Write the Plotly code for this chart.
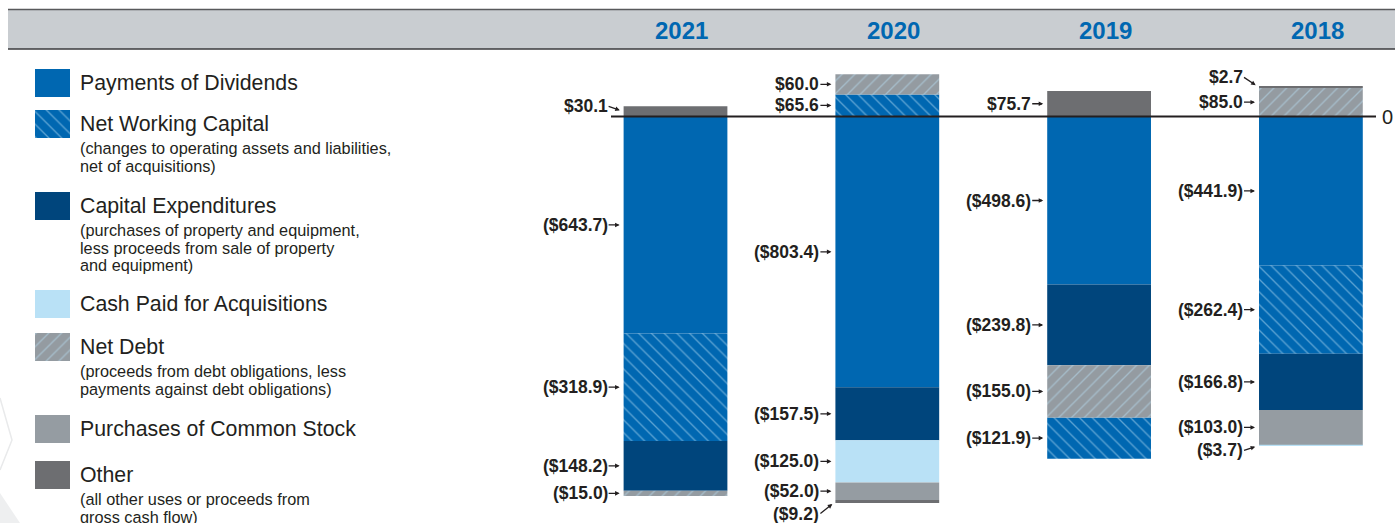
import plotly.graph_objects as go

# ---------------- data ----------------
years = ["2021", "2020", "2019", "2018"]
categories = ["Payments of Dividends", "Net Working Capital", "Capital Expenditures",
              "Cash Paid for Acquisitions", "Net Debt", "Purchases of Common Stock", "Other"]
dividends = [-643.7, -803.4, -498.6, -441.9]
net_working_capital = [-318.9, 65.6, -121.9, -262.4]
capital_expenditures = [-148.2, -157.5, -239.8, -166.8]
acquisitions = [0.0, -125.0, 0.0, -3.7]
net_debt = [-15.0, 60.0, -155.0, 85.0]
stock_purchases = [0.0, -52.0, 0.0, -103.0]
other = [30.1, -9.2, 75.7, 2.7]
series = [dividends, net_working_capital, capital_expenditures, acquisitions,
          net_debt, stock_purchases, other]

# stacking order (outward from zero) per year, as category indices
stack_order = {
    "2021": [0, 1, 2, 4, 6],
    "2020": [0, 2, 3, 5, 6, 1, 4],
    "2019": [0, 2, 4, 1, 6],
    "2018": [0, 1, 2, 5, 3, 4, 6],
}

legend_notes = [
    [],
    ["(changes to operating assets and liabilities,", "net of acquisitions)"],
    ["(purchases of property and equipment,", "less proceeds from sale of property", "and equipment)"],
    [],
    ["(proceeds from debt obligations, less", "payments against debt obligations)"],
    [],
    ["(all other uses or proceeds from", "gross cash flow)"],
]

# ---------------- style ----------------
W, H = 1395, 523
ZERO_PX, SCALE = 116.5, 0.337
FONT = "Liberation Sans, Arial, sans-serif"
TXT = "#231f20"
BLUE = "#0067b1"
LINE_LB = "#b8def4"
styles = [
    dict(color=BLUE),
    dict(color=BLUE, pattern=dict(shape="\\", fgcolor=LINE_LB, bgcolor=BLUE, size=9, solidity=0.15, fillmode="overlay")),
    dict(color="#00457c"),
    dict(color="#b9e1f6"),
    dict(color="#949ba1", pattern=dict(shape="/", fgcolor=LINE_LB, bgcolor="#949ba1", size=9, solidity=0.15, fillmode="overlay")),
    dict(color="#959ca2"),
    dict(color="#6d6e71"),
]
BAR_W = 0.49
# label offsets (px) for thin segments: (year, cat) -> dy of label relative to arrow head
label_dy = {("2021", 6): -5, ("2018", 6): -10, ("2020", 6): 12, ("2018", 3): 5}

# compute bases from stacking order
bases = {c: {} for c in range(len(categories))}
for i, yr in enumerate(years):
    pos, neg = 0.0, 0.0
    for c in stack_order[yr]:
        v = series[c][i]
        if v == 0:
            continue
        if v > 0:
            bases[c][i] = pos
            pos += v
        else:
            bases[c][i] = neg
            neg += v

fig = go.Figure()
for c, name in enumerate(categories):
    xs = [i for i in range(len(years)) if i in bases[c]]
    fig.add_trace(go.Bar(
        x=xs, y=[series[c][i] for i in xs], base=[bases[c][i] for i in xs],
        width=BAR_W, name=name, showlegend=False, hoverinfo="skip",
        marker=dict(line=dict(width=0), **styles[c]),
    ))

def fmt(v):
    return f"${v:.1f}" if v > 0 else f"(${-v:.1f})"

annotations = []
for c in range(len(categories)):
    for i, b in bases[c].items():
        v = series[c][i]
        yr = years[i]
        dy = label_dy.get((yr, c), 0)
        annotations.append(dict(
            x=i - BAR_W / 2, y=b + v / 2, xref="x", yref="y",
            text=fmt(v), showarrow=True, ax=-15, ay=dy, standoff=4,
            arrowhead=2, arrowsize=0.7, arrowwidth=1.3, arrowcolor=TXT,
            xanchor="right", yanchor="middle", borderpad=0,
            font=dict(family=FONT, size=17.5, color=TXT, weight="bold"),
        ))

# year headers
for i, yr in enumerate(years):
    annotations.append(dict(x=i + 0.03, y=30, xref="x", yref="y2", text=yr, showarrow=False,
                            font=dict(family=FONT, size=24, color=BLUE, weight="bold"),
                            xanchor="center", yanchor="middle"))
# zero label
annotations.append(dict(x=1380, y=ZERO_PX, xref="x2", yref="y2", text="0", showarrow=False,
                        xanchor="left", yanchor="middle",
                        font=dict(family=FONT, size=20, color=TXT)))

shapes = [
    # faint background chevrons
    dict(type="path", xref="x2", yref="y2", layer="below",
         path="M 0 398 L 12 440 L 0 470", line=dict(color="#e9eaeb", width=1.5)),
    dict(type="path", xref="x2", yref="y2", layer="below",
         path="M 0 493 L 20 523 L 0 523 Z", fillcolor="#eeeff0", line=dict(width=0)),
    # header band
    dict(type="rect", xref="x2", yref="y2", x0=8, x1=W, y0=9.5, y1=49, fillcolor="#c9cdd1",
         line=dict(width=0), layer="below"),
    dict(type="line", xref="x2", yref="y2", x0=8, x1=W, y0=9.5, y1=9.5, line=dict(color="#58595b", width=1.3)),
    dict(type="line", xref="x2", yref="y2", x0=8, x1=W, y0=49, y1=49, line=dict(color="#3a3a3c", width=1.6)),
    # zero line
    dict(type="line", xref="x2", yref="y", x0=611, x1=1376, y0=0, y1=0, line=dict(color=TXT, width=2)),
]

# legend
leg_tops = [69, 110, 192, 290, 333, 415, 461]
for c, name in enumerate(categories):
    t = leg_tops[c]
    st = styles[c]
    sc = dict(x=[35, 70, 70, 35, 35], y=[t, t, t + 28, t + 28, t], xaxis="x2", yaxis="y2",
              mode="lines", line=dict(width=0), fill="toself", fillcolor=st["color"],
              hoverinfo="skip", showlegend=False)
    if "pattern" in st:
        sc["fillpattern"] = st["pattern"]
    fig.add_trace(go.Scatter(**sc))
    annotations.append(dict(x=78, y=t + 14, xref="x2", yref="y2", text=name, showarrow=False,
                            xanchor="left", yanchor="middle",
                            font=dict(family=FONT, size=21.3, color=TXT)))
    for k, line in enumerate(legend_notes[c]):
        annotations.append(dict(x=78, y=t + 38 + 17.5 * k, xref="x2", yref="y2", text=line,
                                showarrow=False, xanchor="left", yanchor="middle",
                                font=dict(family=FONT, size=16.3, color=TXT)))

fig.update_layout(
    width=W, height=H, margin=dict(l=0, r=0, t=0, b=0),
    paper_bgcolor="white", plot_bgcolor="white",
    barmode="overlay", showlegend=False,
    xaxis=dict(range=[-675.5 / 211.8, (W - 675.5) / 211.8], visible=False, fixedrange=True),
    yaxis=dict(range=[-(H - ZERO_PX) / SCALE, ZERO_PX / SCALE], visible=False, fixedrange=True),
    xaxis2=dict(range=[0, W], overlaying="x", anchor="y2", visible=False),
    yaxis2=dict(range=[H, 0], overlaying="y", anchor="x2", visible=False),
    shapes=shapes, annotations=annotations,
)

fig.write_html("out.html")
